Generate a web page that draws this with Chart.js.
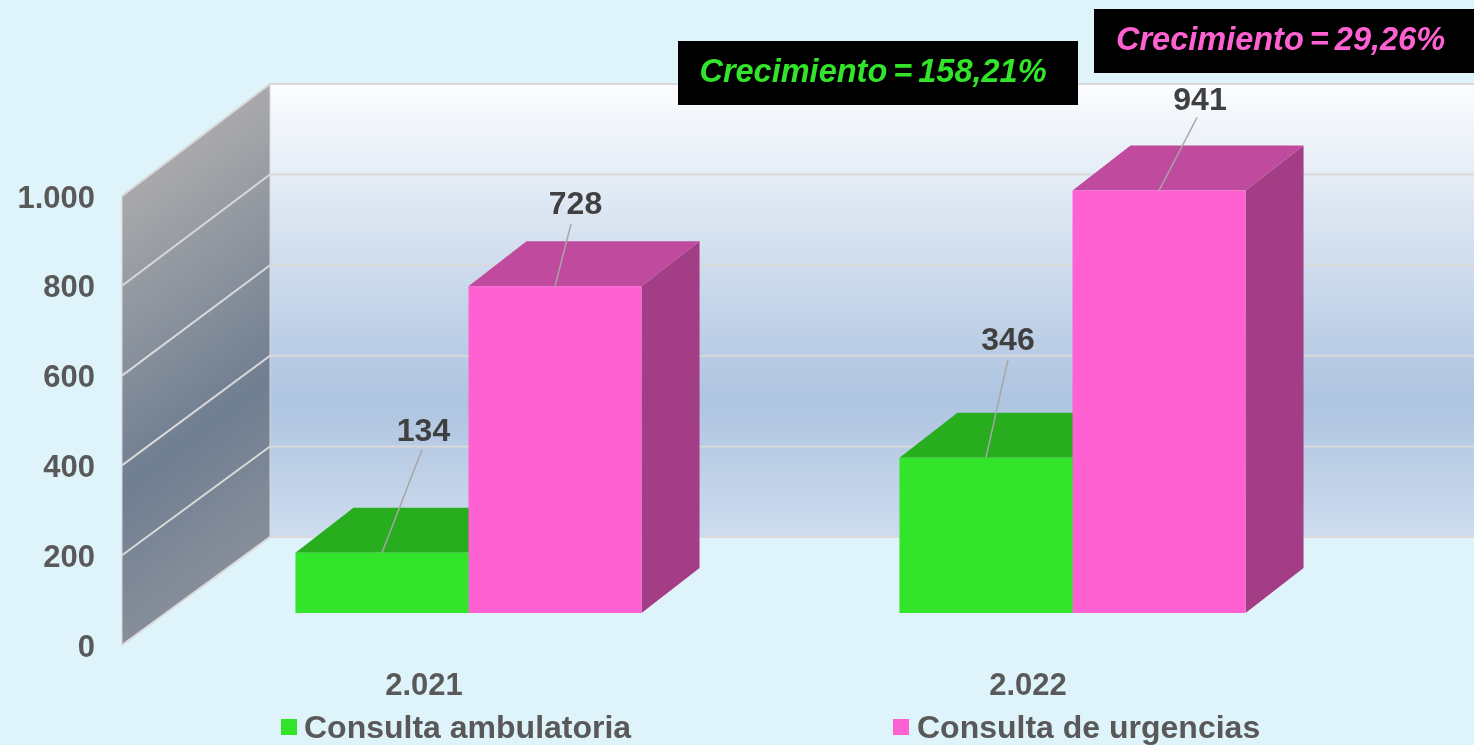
<!DOCTYPE html>
<html>
<head>
<meta charset="utf-8">
<title>Consultas</title>
<script src="https://cdn.jsdelivr.net/npm/chart.js@4"></script>
<style>
    html, body { margin: 0; padding: 0; background: #dff3fb; overflow: hidden; }
    canvas { display: block; }
</style>
</head>
<body>
<canvas id="chart" width="1474" height="745"></canvas>
<script>
const years = ['2.021', '2.022'];
const ambulatoria = [134, 346];
const urgencias = [728, 941];
const seriesNames = ['Consulta ambulatoria', 'Consulta de urgencias'];
const growthLabels = ['Crecimiento = 158,21%', 'Crecimiento = 29,26%'];

const FONT = '"Liberation Sans", Arial, sans-serif';
const GREY = '#595959';
const GREEN = '#33e52a';
const PINK = '#ff61d2';

// how far the bars, and the back wall, sit behind the front plane of the axes
const BAR_SHIFT = { x: 44.5, y: -32 };
const BAR_DEPTH = { x: 58, y: -45 };
const WALL_DEPTH = { x: 148, y: -108 };

const barShades = [
    { top: '#27ad1e', side: '#1f8a18' },
    { top: '#bf4a9e', side: '#a33d85' }
];
// leader line offset from the top of each bar, [dataset][category]
const leaderOffsets = [
    [[40, -103], [22, -98]],
    [[16, -62], [38, -73]]
];
// value label offset from the end of its leader line
const labelOffsets = [
    [[1.5, -18], [0, -18]],
    [[4.5, -19], [3, -16]]
];
const growthBoxes = [
    { x: 678, y: 41, w: 400, h: 64, textX: 873, color: GREEN },
    { x: 1094, y: 9, w: 380, h: 64, textX: 1280.5, color: PINK }
];
const legendSpots = [{ x: 281, text: 304 }, { x: 893, text: 917 }];

function poly(ctx, pts, fill, stroke, lineWidth) {
    ctx.beginPath();
    pts.forEach((p, i) => i ? ctx.lineTo(p[0], p[1]) : ctx.moveTo(p[0], p[1]));
    ctx.closePath();
    if (fill) { ctx.fillStyle = fill; ctx.fill(); }
    if (stroke) { ctx.strokeStyle = stroke; ctx.lineWidth = lineWidth || 1; ctx.stroke(); }
}

// back wall grows a little towards the top (slight perspective in the original)
function backY(frontY, bottom) {
    return frontY + WALL_DEPTH.y - (bottom - frontY) * 0.009;
}

const wallsAndBars = {
    id: 'wallsAndBars',
    afterUpdate(chart) {
        // y labels sit a bit under their gridline ends in the original
        chart.scales.y.getLabelItems().forEach(item => { item.options.translation[1] += 3; });
    },
    beforeDatasetsDraw(chart) {
        const ctx = chart.ctx;
        const area = chart.chartArea;
        const yScale = chart.scales.y;
        const left = area.left, bottom = area.bottom, top = area.top;
        const backX = left + WALL_DEPTH.x;
        const backTop = backY(top, bottom), backBottom = backY(bottom, bottom);
        const right = chart.width + 10;

        const back = ctx.createLinearGradient(0, backTop, 0, backBottom);
        back.addColorStop(0, '#fbfdff');
        back.addColorStop(0.7, '#aec4e0');
        back.addColorStop(1, '#cedcee');
        poly(ctx, [[backX, backTop], [right, backTop], [right, backBottom], [backX, backBottom]], back);

        const wall = ctx.createLinearGradient(196, 140, 412, 430);
        wall.addColorStop(0, '#a9a9ab');
        wall.addColorStop(0.65, '#6f7e91');
        wall.addColorStop(1, '#868e9a');
        poly(ctx, [[left, top], [backX, backTop], [backX, backBottom], [left, bottom]], wall, '#d9d9d9', 1);

        yScale.ticks.forEach(t => {
            const y = yScale.getPixelForValue(t.value);
            const by = backY(y, bottom);
            ctx.strokeStyle = '#d9d9d9';
            ctx.lineWidth = 2;
            ctx.beginPath();
            ctx.moveTo(left, y);
            ctx.lineTo(backX, by);
            ctx.lineTo(right, by);
            ctx.stroke();
        });

        // tops and sides first so that the bar fronts cover them
        ctx.save();
        ctx.translate(BAR_SHIFT.x, BAR_SHIFT.y);
        chart.data.datasets.forEach((ds, d) => {
            chart.getDatasetMeta(d).data.forEach(bar => {
                const x0 = bar.x - bar.width / 2, x1 = bar.x + bar.width / 2;
                const dx = BAR_DEPTH.x, dy = BAR_DEPTH.y;
                poly(ctx, [[x1, bar.y], [x1 + dx, bar.y + dy], [x1 + dx, bar.base + dy], [x1, bar.base]], barShades[d].side);
                poly(ctx, [[x0, bar.y], [x0 + dx, bar.y + dy], [x1 + dx, bar.y + dy], [x1, bar.y]], barShades[d].top);
            });
        });
        ctx.restore();

        ctx.save();
        ctx.translate(BAR_SHIFT.x, BAR_SHIFT.y);
    },
    afterDatasetsDraw(chart) {
        const ctx = chart.ctx;
        ctx.restore();

        // leader lines and value labels
        chart.data.datasets.forEach((ds, d) => {
            chart.getDatasetMeta(d).data.forEach((bar, i) => {
                const x = bar.x + BAR_SHIFT.x, y = bar.y + BAR_SHIFT.y;
                const off = leaderOffsets[d][i];
                const lab = labelOffsets[d][i];
                ctx.strokeStyle = '#a6a6a6';
                ctx.lineWidth = 1.5;
                ctx.beginPath();
                ctx.moveTo(x, y);
                ctx.lineTo(x + off[0], y + off[1]);
                ctx.stroke();
                ctx.fillStyle = '#404040';
                ctx.font = 'bold 32px ' + FONT;
                ctx.textAlign = 'center';
                ctx.textBaseline = 'middle';
                ctx.fillText(String(ds.data[i]), x + off[0] + lab[0], y + off[1] + lab[1]);
            });
        });

        // growth boxes
        growthBoxes.forEach((b, i) => {
            ctx.fillStyle = '#000000';
            ctx.fillRect(b.x, b.y, b.w, b.h);
            ctx.fillStyle = b.color;
            ctx.font = 'italic bold 32.5px ' + FONT;
            ctx.wordSpacing = '-3px';
            ctx.textAlign = 'center';
            ctx.textBaseline = 'middle';
            ctx.fillText(growthLabels[i], b.textX, b.y + b.h / 2);
            ctx.wordSpacing = '0px';
        });

        // legend
        chart.data.datasets.forEach((ds, d) => {
            ctx.fillStyle = ds.backgroundColor;
            ctx.fillRect(legendSpots[d].x, 719, 16, 16);
            ctx.fillStyle = GREY;
            ctx.font = 'bold 32px ' + FONT;
            ctx.textAlign = 'left';
            ctx.textBaseline = 'middle';
            ctx.fillText(ds.label, legendSpots[d].text, 729);
        });
    }
};

new Chart(document.getElementById('chart'), {
    type: 'bar',
    data: {
        labels: years,
        datasets: [
            { label: seriesNames[0], data: ambulatoria, backgroundColor: GREEN },
            { label: seriesNames[1], data: urgencias, backgroundColor: PINK }
        ]
    },
    options: {
        responsive: false,
        animation: false,
        categoryPercentage: 0.573,
        barPercentage: 1,
        layout: { padding: { top: 196, right: 144, left: 0, bottom: 0 } },
        plugins: { legend: { display: false }, tooltip: { enabled: false } },
        scales: {
            x: {
                grid: { display: false },
                border: { display: false },
                afterFit(scale) { scale.height = 100; },
                ticks: {
                    color: GREY,
                    padding: 15,
                    maxRotation: 0,
                    font: { family: FONT, size: 31, weight: 'bold' }
                }
            },
            y: {
                min: 0,
                max: 1000,
                grid: { display: false },
                border: { display: false },
                afterFit(scale) { scale.width = 122; },
                ticks: {
                    stepSize: 200,
                    color: GREY,
                    padding: 19,
                    font: { family: FONT, size: 31, weight: 'bold' },
                    callback: v => v >= 1000 ? '1.000' : String(v)
                }
            }
        }
    },
    plugins: [wallsAndBars]
});
</script>
</body>
</html>
